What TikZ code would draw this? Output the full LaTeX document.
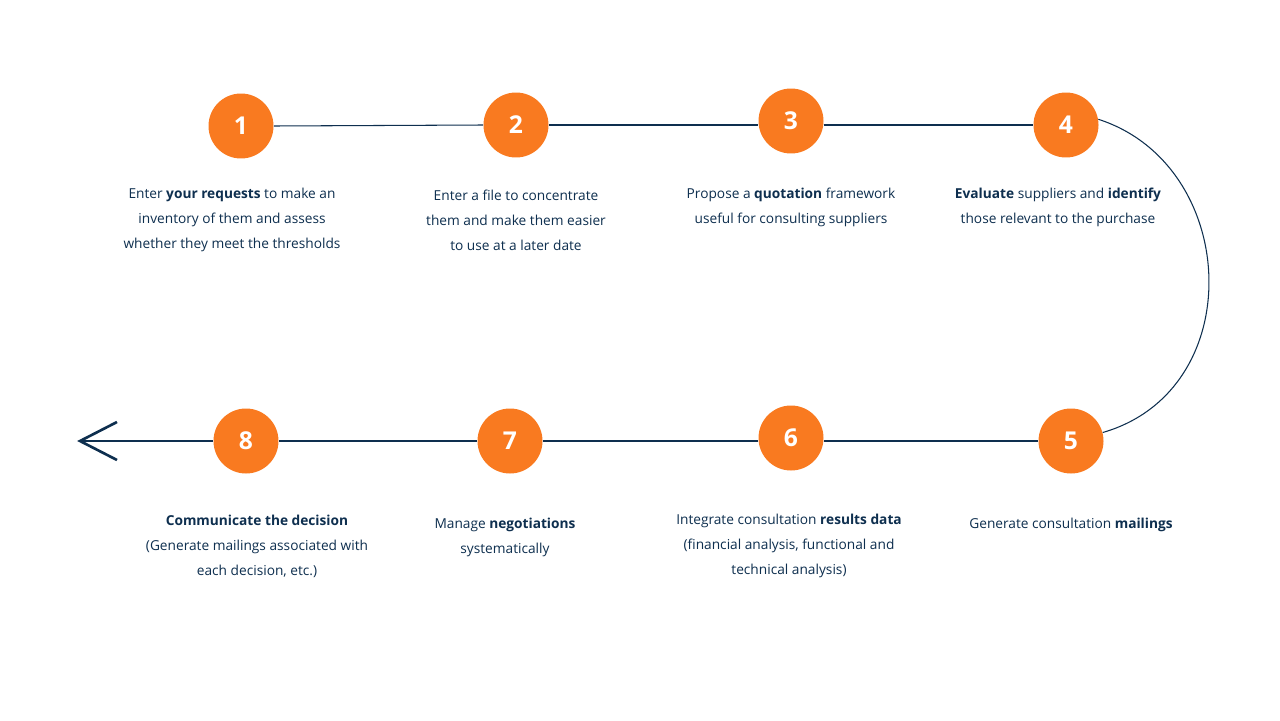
\documentclass[tikz,border=0pt]{standalone}
\usepackage{fontspec}
\setmainfont{Open Sans}
\definecolor{navy}{HTML}{0E2F4F}
\definecolor{orng}{HTML}{F97A20}
\begin{document}
\begin{tikzpicture}[x=0.02cm,y=-0.02cm,
  step circle/.style={circle,fill=orng,minimum size=1.3cm,inner sep=0pt,text=white,font=\bfseries\fontsize{14}{16}\selectfont},
  desc/.style={align=center,text=navy,font=\fontsize{7.8}{14.2}\selectfont,anchor=north,inner sep=0pt},
  conn/.style={draw=navy,line width=0.6pt}]
\useasboundingbox[fill=white] (0,0) rectangle (1280,720);
\node[step circle] (n1) at (241,126) {1};
\node[step circle] (n2) at (516,125) {2};
\node[step circle] (n3) at (791,121) {3};
\node[step circle] (n4) at (1066,125) {4};
\node[step circle] (n5) at (1071,441) {5};
\node[step circle] (n6) at (791,438) {6};
\node[step circle] (n7) at (510,441) {7};
\node[step circle] (n8) at (246,441) {8};
\coordinate (tip) at (80,441);
\coordinate (a1) at (117,422);
\coordinate (a2) at (117,460);
\begin{scope}[on background layer/.style={}]
\draw[conn] (n1.east) -- (n2.west);
\draw[conn] (n2.east) -- (n3.west |- n2.east);
\draw[conn] (n3.east |- n2.east) -- (n4.west);
\draw[conn] (n4.10) .. controls (1240,165) and (1250,390) .. (n5.15);
\draw[conn] (n5.west) -- (n6.east |- n5.west);
\draw[conn] (n6.west |- n5.west) -- (n7.east);
\draw[conn] (n7.west) -- (n8.east);
\draw[conn] (n8.west) -- (tip);
\draw[navy,line width=1.5pt] (a1) -- (tip) -- (a2);
\end{scope}
\node[desc] (t1) at (232,188) {Enter \textbf{your requests} to make an\\inventory of them and assess\\whether they meet the thresholds};
\node[desc] (t2) at (516,190) {Enter a file to concentrate\\them and make them easier\\to use at a later date};
\node[desc] (t3) at (791,188) {Propose a \textbf{quotation} framework\\useful for consulting suppliers};
\node[desc] (t4) at (1058,188) {\textbf{Evaluate} suppliers and \textbf{identify}\\those relevant to the purchase};
\node[desc] (t5) at (1071,518) {Generate consultation \textbf{mailings}};
\node[desc] (t6) at (789,514) {Integrate consultation \textbf{results data}\\(financial analysis, functional and\\technical analysis)};
\node[desc] (t7) at (505,518) {Manage \textbf{negotiations}\\systematically};
\node[desc] (t8) at (257,515) {\textbf{Communicate the decision}\\(Generate mailings associated with\\each decision, etc.)};
\end{tikzpicture}
\end{document}
